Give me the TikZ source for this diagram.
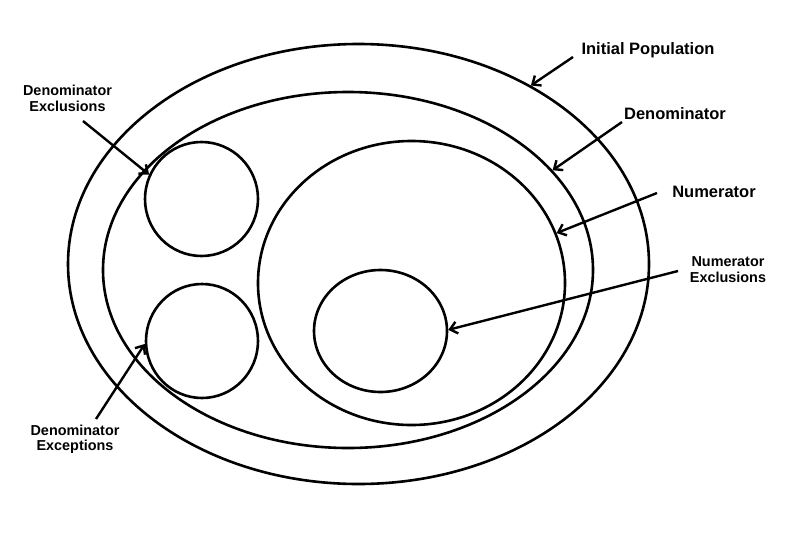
\documentclass[tikz,border=0pt]{standalone}
\usepackage{fontspec}
\setmainfont{Liberation Sans}
\usetikzlibrary{shapes.geometric,arrows.meta}
\begin{document}
\begin{tikzpicture}[x=1pt,y=-1pt,
  ring/.style={draw, ellipse, line width=2.6pt, inner sep=0pt},
  lbl/.style={font=\fontsize{16.5}{19}\selectfont\bfseries, inner sep=0pt},
  lbltwo/.style={font=\fontsize{14.4}{15.5}\selectfont\bfseries, align=center, inner sep=0pt},
  pointer/.style={line width=2.4pt, -{Straight Barb[length=7pt,width=12pt]}}
]
\fill[white] (0,0) rectangle (800,552);
\useasboundingbox (0,0) rectangle (800,552);
% ellipses
\node[ring, minimum width=581pt, minimum height=440pt] (outer) at (358.5,264) {};
\node[ring, minimum width=490pt, minimum height=356pt] (denom) at (348,270) {};
\node[ring, minimum width=307pt, minimum height=284pt] (numer) at (411.5,283) {};
\node[ring, minimum width=133pt, minimum height=122pt] (nexcl) at (380.5,331) {};
\node[ring, minimum width=113pt, minimum height=114pt] (dexcl) at (201.5,199) {};
\node[ring, minimum width=112pt, minimum height=114pt] (dexcp) at (202,341) {};
% labels
\node[lbl] (tip) at (648,50) {Initial Population};
\node[lbl] (tden) at (675,113.5) {Denominator};
\node[lbl] (tnum) at (714,191.5) {Numerator};
\node[lbltwo] (tnex) at (728,269.5) {Numerator\\Exclusions};
\node[lbltwo] (tdex) at (67.5,98.5) {Denominator\\Exclusions};
\node[lbltwo] (tdep) at (75,439.5) {Denominator\\Exceptions};
% arrow starts
\coordinate (sip) at (573,57);
\coordinate (sden) at (622,122);
\coordinate (snum) at (657,193);
\coordinate (snex) at (678,271);
\coordinate (sdex) at (83,121);
\coordinate (sdep) at (96,419);
% arrows
\draw[pointer] (sip) -- (outer.46);
\draw[pointer] (sden) -- (denom.26.5);
\draw[pointer] (snum) -- (numer.19.2);
\draw[pointer] (snex) -- (nexcl.1.7);
\draw[pointer] (sdex) -- (dexcl.155.8);
\draw[pointer] (sdep) -- (dexcp.183);
\end{tikzpicture}
\end{document}
